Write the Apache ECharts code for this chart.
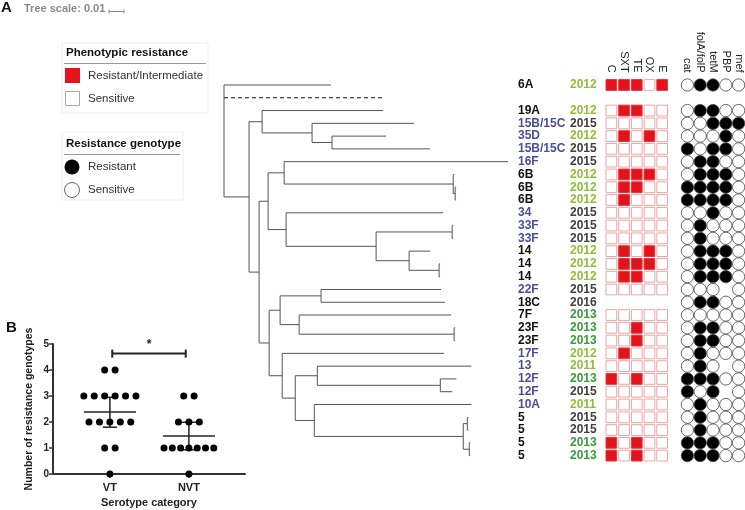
<!DOCTYPE html>
<html><head><meta charset="utf-8">
<script src="https://cdn.jsdelivr.net/npm/echarts@6/dist/echarts.min.js"></script>
<style>html,body{margin:0;padding:0;background:#fff}#c{width:745px;height:510px}</style>
</head><body><div id="c"></div>
<script>
// ================= DATA =================
// Phylogenetic tree (Newick, branch lengths in 0.001 substitutions/site); "_" = truncated (dashed) branch
const cladeA = '(19A:80.7,(15B/15C:68,(35D:36,15B/15C:65.3):13.3):33.3)';
const cladeE = '((16F:149.3,(6B:0.7,(6B:0.7,6B:0.7):1.3):112.7):10.7,(34:104.7,((33F:0.7,33F:0.7):50.7,(14:14,(14:0.7,14:0.7):20):22):60):12)';
const cladeO = '((22F:80,18C:82.7):27.3,(7F:101.3,(23F:0.7,23F:0.7):103.3):12.7)';
const cladeS = '(17F:108,((13:102.7,(12F:10.7,12F:8):82):14.7,(10A:104.7,((5:0.7,5:0.7):2.7,(5:0.7,5:0.7):4):99.3):12.7):8.7)';
const newick = '(6A:71.3,_:106,(' + cladeA + ':8.7,(' + cladeE + ':6,(' + cladeO + ':7.3,' + cladeS + ':8.7):6.7):6.7):16.7);';
const treeScale = 10; // 0.01

const serotypes = ['6A','','19A','15B/15C','35D','15B/15C','16F','6B','6B','6B','34','33F','33F','14','14','14','22F','18C','7F','23F','23F','17F','13','12F','12F','10A','5','5','5','5'];
const vaccineType = ['VT','','VT','NVT','NVT','NVT','NVT','VT','VT','VT','NVT','NVT','NVT','VT','VT','VT','NVT','VT','VT','VT','VT','NVT','NVT','NVT','NVT','NVT','VT','VT','VT','VT'];
const years = [2012,null,2012,2015,2012,2015,2015,2012,2012,2012,2015,2015,2015,2012,2012,2012,2015,2016,2013,2013,2013,2012,2011,2013,2015,2011,2015,2015,2013,2013];

const phenoCols = ['C','SXT','TE','OX','E'];
// 1 = resistant/intermediate, 0 = sensitive, null = not tested
const pheno = ['11101',null,'01100','00000','01010','00000','00000','01110','01100','01000','00000','00000','00000','01010','01110','01100','00000',null,'00000','00100','00100','01000','00000','10100','00000','00000','00000','00000','10100','10100'];

const genoCols = ['cat','folA/folP','tetM','PBP','mef'];
// 1 = resistant, 0 = sensitive, '-' = no data
const geno = ['01100',null,'01100','00111','00010','10110','01100','01110','11110','11110','00100','01000','01000','01110','01110','01110','000-0','01100','00000','01100','01100','01000','010-0','11100','101-0','01000','01000','01000','11100','11100'];

// Panel B
const groups = ['VT','NVT'];
const vtValues  = [4,4,3,3,3,3,3,3,2,2,2,2,2,1,1,0];
const nvtValues = [3,3,2,2,2,1,1,1,1,1,1,1,0];
const groupMean = [2.38, 1.46];
const ciLow  = [1.80, 0.93];
const ciHigh = [2.95, 1.99];
const sigLabel = '*';

// ================= BUILD =================
const FONT = '"Liberation Sans", Arial, Helvetica, sans-serif';

function parseNewick(s){
  let i = 0;
  function node(){
    const n = {children:[], len:0, name:''};
    if (s[i] === '('){
      i++; n.children.push(node());
      while (s[i] === ','){ i++; n.children.push(node()); }
      i++;
    }
    let name = '';
    while (i < s.length && ',():;'.indexOf(s[i]) < 0) name += s[i++];
    n.name = name;
    if (s[i] === ':'){
      i++; let l = '';
      while (i < s.length && ',();'.indexOf(s[i]) < 0) l += s[i++];
      n.len = parseFloat(l);
    }
    return n;
  }
  return node();
}
const root = parseNewick(newick);
const treeSegs = [];
let leafRow = 0;
function layout(n, parentX, isRoot){
  n.x = isRoot ? 0 : parentX + n.len;
  if (!n.children.length){ n.y = leafRow++; }
  else {
    n.children.forEach(c => layout(c, n.x, false));
    const y0 = n.children[0].y, y1 = n.children[n.children.length-1].y;
    n.y = (y0 + y1) / 2;
    treeSegs.push([n.x, y0, n.x, y1, 0]);
  }
  if (!isRoot) treeSegs.push([parentX, n.y, n.x, n.y, n.name === '_' ? 1 : 0]);
}
layout(root, 0, true);

const rowIds = serotypes.map((s, i) => String(i));
const phenoData = [];
pheno.forEach((p, r) => { if (p) for (let c = 0; c < p.length; c++) phenoData.push([c, r, +p[c]]); });
const genoData = [];
geno.forEach((g, r) => { if (g) for (let c = 0; c < g.length; c++) if (g[c] !== '-') genoData.push({value:[c, r], itemStyle:{color: g[c] === '1' ? '#000' : '#fff'}}); });

function swarm(values, gx){
  const counts = {};
  values.forEach(v => counts[v] = (counts[v] || 0) + 1);
  const out = [];
  Object.keys(counts).forEach(k => {
    const n = counts[k], step = n > 6 ? 0.105 : 0.132;
    for (let i = 0; i < n; i++) out.push([gx + (i - (n - 1) / 2) * step, +k]);
  });
  return out;
}
const dots = swarm(vtValues, 1).concat(swarm(nvtValues, 2));
const statData = groups.map((g, i) => [i + 1, groupMean[i], ciLow[i], ciHigh[i]]);

const yearColor = {2011:'#8fbf37', 2012:'#8fbf37', 2013:'#3a9a3a', 2015:'#404040', 2016:'#404040'};
const rich = {
  VT: {width:52, fontWeight:'bold', fontSize:12, color:'#111', fontFamily:FONT},
  NVT:{width:52, fontWeight:'bold', fontSize:12, color:'#4b4f98', fontFamily:FONT}
};
Object.keys(yearColor).forEach(y => rich['y' + y] = {fontWeight:'bold', fontSize:12, color:yearColor[y], fontFamily:FONT});

const headLabel = {rotate:90, interval:0, margin:6, fontSize:11, color:'#222', fontFamily:FONT};
const axisDark = {color:'#333', width:2};

const baseGraphics = [
  {type:'text', x:1, y:8, style:{text:'A', font:'bold 15px ' + FONT, fill:'#111', verticalAlign:'middle'}},
  {type:'text', x:24, y:9, style:{text:'Tree scale: 0.01', font:'bold 11px ' + FONT, fill:'#8a8a8a', verticalAlign:'middle'}},
  {type:'rect', shape:{x:62, y:43, width:146, height:70}, style:{fill:'none', stroke:'#eeeeee'}},
  {type:'text', x:66, y:53, style:{text:'Phenotypic resistance', font:'bold 11.5px ' + FONT, fill:'#111', verticalAlign:'middle'}},
  {type:'line', shape:{x1:64, y1:63.5, x2:206, y2:63.5}, style:{stroke:'#999', lineWidth:1}},
  {type:'rect', shape:{x:65, y:68, width:15, height:15}, style:{fill:'#e3121b'}},
  {type:'text', x:88, y:76, style:{text:'Resistant/Intermediate', font:'11.5px ' + FONT, fill:'#333', verticalAlign:'middle'}},
  {type:'rect', shape:{x:65.5, y:91.5, width:14, height:14}, style:{fill:'#fff', stroke:'#aaa'}},
  {type:'text', x:88, y:99, style:{text:'Sensitive', font:'11.5px ' + FONT, fill:'#333', verticalAlign:'middle'}},
  {type:'rect', shape:{x:62, y:132, width:121, height:68}, style:{fill:'none', stroke:'#eeeeee'}},
  {type:'text', x:66, y:144, style:{text:'Resistance genotype', font:'bold 11.5px ' + FONT, fill:'#111', verticalAlign:'middle'}},
  {type:'line', shape:{x1:64, y1:154.5, x2:180, y2:154.5}, style:{stroke:'#999', lineWidth:1}},
  {type:'circle', shape:{cx:72, cy:167, r:7.5}, style:{fill:'#000'}},
  {type:'text', x:88, y:167, style:{text:'Resistant', font:'11.5px ' + FONT, fill:'#333', verticalAlign:'middle'}},
  {type:'circle', shape:{cx:72, cy:190, r:7.5}, style:{fill:'#fff', stroke:'#444', lineWidth:0.8}},
  {type:'text', x:88, y:190, style:{text:'Sensitive', font:'11.5px ' + FONT, fill:'#333', verticalAlign:'middle'}},
  {type:'text', x:6, y:328, style:{text:'B', font:'bold 15px ' + FONT, fill:'#111', verticalAlign:'middle'}}
];

const option = {
  animation:false,
  backgroundColor:'#fff',
  grid:[
    {left:224, top:78.6, width:300, height:383.4},
    {left:605, top:78.6, width:63.5, height:383.4},
    {left:681, top:78.6, width:65, height:383.4},
    {left:53, top:344, width:192, height:130}
  ],
  xAxis:[
    {gridIndex:0, type:'value', min:0, max:200, show:false},
    {gridIndex:1, type:'category', data:phenoCols, position:'top', axisLine:{show:false}, axisTick:{show:false}, axisLabel:headLabel, splitLine:{show:false}},
    {gridIndex:2, type:'category', data:genoCols, position:'top', axisLine:{show:false}, axisTick:{show:false}, axisLabel:headLabel, splitLine:{show:false}},
    {gridIndex:3, type:'value', min:0.28, max:2.71, splitLine:{show:false},
      axisLine:{show:true, onZero:false, lineStyle:axisDark},
      axisTick:{show:true, customValues:[1,2], length:4, lineStyle:{color:'#333', width:1.5}},
      axisLabel:{customValues:[1,2], formatter:v => groups[Math.round(v) - 1], fontWeight:'bold', fontSize:11, color:'#222', margin:8, fontFamily:FONT},
      name:'Serotype category', nameLocation:'middle', nameGap:23,
      nameTextStyle:{fontWeight:'bold', fontSize:11, color:'#222', fontFamily:FONT}}
  ],
  yAxis:[
    {gridIndex:0, type:'value', min:-0.5, max:29.5, inverse:true, show:false},
    {gridIndex:1, type:'category', data:rowIds, inverse:true, axisLine:{show:false}, axisTick:{show:false}, splitLine:{show:false},
      axisLabel:{interval:0, align:'left', margin:87, rich:rich,
        formatter:(v, idx) => serotypes[idx] ? '{' + vaccineType[idx] + '|' + serotypes[idx] + '}{y' + years[idx] + '|' + years[idx] + '}' : ''}},
    {gridIndex:2, type:'category', data:rowIds, inverse:true, show:false},
    {gridIndex:3, type:'value', min:0, max:5, interval:1, splitLine:{show:false},
      axisLine:{show:true, lineStyle:axisDark},
      axisTick:{show:true, length:4, lineStyle:{color:'#333', width:1.5}},
      axisLabel:{fontWeight:'bold', fontSize:10, color:'#222', margin:4, fontFamily:FONT},
      name:'Number of resistance genotypes', nameLocation:'middle', nameGap:18,
      nameTextStyle:{fontWeight:'bold', fontSize:10.5, color:'#222', fontFamily:FONT}}
  ],
  series:[
    {type:'custom', xAxisIndex:0, yAxisIndex:0, data:treeSegs, clip:false,
      renderItem:(params, api) => {
        const p1 = api.coord([api.value(0), api.value(1)]);
        const p2 = api.coord([api.value(2), api.value(3)]);
        const dashed = api.value(4) === 1;
        return {type:'line', shape:{x1:p1[0], y1:p1[1], x2:p2[0], y2:p2[1]},
          style:{stroke: dashed ? '#111' : '#555', lineWidth:1, lineDash: dashed ? [4,3] : null}};
      }},
    {type:'custom', xAxisIndex:1, yAxisIndex:1, data:phenoData,
      renderItem:(params, api) => {
        const c = api.coord([api.value(0), api.value(1)]);
        const s = api.size([1, 1]);
        const r = api.value(2) === 1;
        return {type:'rect', shape:{x:c[0] - s[0]/2 + 1, y:c[1] - s[1]/2 + 1, width:s[0] - 2, height:s[1] - 2},
          style:{fill: r ? '#e3121b' : '#fff', stroke: r ? '#e8333a' : '#f2a3a3', lineWidth:1}};
      }},
    {type:'scatter', xAxisIndex:2, yAxisIndex:2, data:genoData, symbol:'circle', symbolSize:12.3,
      itemStyle:{borderColor:'#444', borderWidth:0.8, opacity:1}},
    {type:'scatter', xAxisIndex:3, yAxisIndex:3, data:dots, symbol:'circle', symbolSize:7, clip:false, z:5,
      itemStyle:{color:'#000', opacity:1}},
    {type:'custom', xAxisIndex:3, yAxisIndex:3, data:statData, z:4,
      renderItem:(params, api) => {
        const x = api.value(0);
        const m = api.coord([x, api.value(1)]);
        const lo = api.coord([x, api.value(2)]);
        const hi = api.coord([x, api.value(3)]);
        const hw = api.size([0.33, 0])[0], cw = api.size([0.09, 0])[0];
        const st = {stroke:'#222', lineWidth:1.5};
        return {type:'group', children:[
          {type:'line', shape:{x1:m[0] - hw, y1:m[1], x2:m[0] + hw, y2:m[1]}, style:st},
          {type:'line', shape:{x1:lo[0], y1:lo[1], x2:hi[0], y2:hi[1]}, style:st},
          {type:'line', shape:{x1:lo[0] - cw, y1:lo[1], x2:lo[0] + cw, y2:lo[1]}, style:st},
          {type:'line', shape:{x1:hi[0] - cw, y1:hi[1], x2:hi[0] + cw, y2:hi[1]}, style:st}
        ]};
      }},
    {type:'custom', xAxisIndex:3, yAxisIndex:3, data:[[1.03, 1.96, 4.63]], clip:false,
      renderItem:(params, api) => {
        const a = api.coord([api.value(0), api.value(2)]);
        const b = api.coord([api.value(1), api.value(2)]);
        const st = {stroke:'#222', lineWidth:2};
        return {type:'group', children:[
          {type:'line', shape:{x1:a[0], y1:a[1], x2:b[0], y2:b[1]}, style:st},
          {type:'line', shape:{x1:a[0], y1:a[1] - 4, x2:a[0], y2:a[1] + 4}, style:st},
          {type:'line', shape:{x1:b[0], y1:b[1] - 4, x2:b[0], y2:b[1] + 4}, style:st},
          {type:'text', x:(a[0] + b[0]) / 2, y:a[1] - 3, style:{text:sigLabel, font:'bold 12px ' + FONT, fill:'#222', align:'center', verticalAlign:'bottom'}}
        ]};
      }}
  ],
  graphic: baseGraphics
};

const chart = echarts.init(document.getElementById('c'), null, {renderer:'canvas'});
chart.setOption(option);
const sx0 = chart.convertToPixel({xAxisIndex:0}, 0);
const sx1 = chart.convertToPixel({xAxisIndex:0}, treeScale);
const barW = sx1 - sx0;
const bx = 109, by = 11.5;
chart.setOption({graphic: baseGraphics.concat([
  {type:'line', shape:{x1:bx, y1:by, x2:bx + barW, y2:by}, style:{stroke:'#888', lineWidth:1}},
  {type:'line', shape:{x1:bx, y1:by - 2, x2:bx, y2:by + 2}, style:{stroke:'#888', lineWidth:1}},
  {type:'line', shape:{x1:bx + barW, y1:by - 2, x2:bx + barW, y2:by + 2}, style:{stroke:'#888', lineWidth:1}}
])});
</script>
</body></html>
